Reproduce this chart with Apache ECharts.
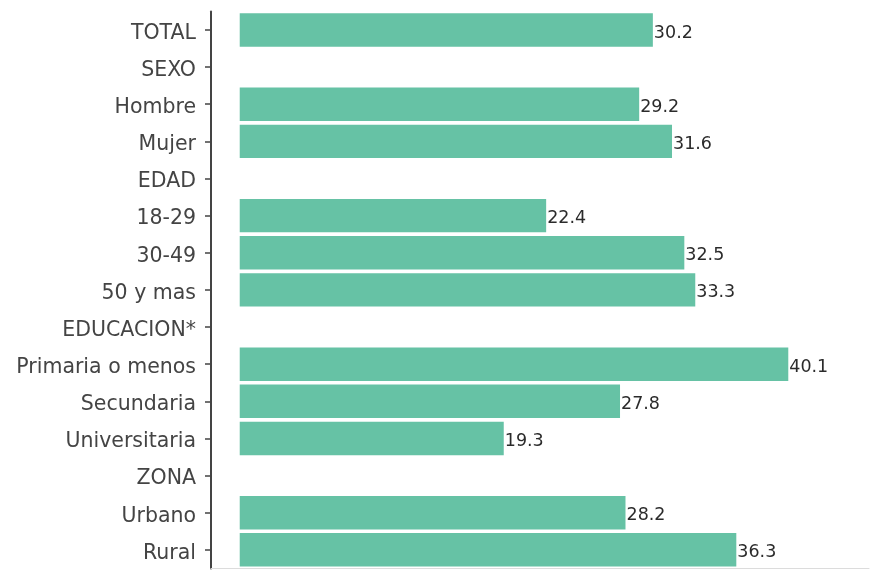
<!DOCTYPE html>
<html lang="es">
<head>
<meta charset="UTF-8" />
<title>Porcentaje por grupo</title>
<style>
  html, body { margin: 0; padding: 0; background: #fff; }
  #chart { width: 874px; height: 571px; }
</style>
</head>
<body>
<div id="chart"></div>
<script src="https://cdn.jsdelivr.net/npm/echarts@6/dist/echarts.min.js"></script>
<script>
// categorias (de arriba hacia abajo) y valores; null = fila de encabezado
const categorias = ['TOTAL', 'SEXO', 'Hombre', 'Mujer', 'EDAD', '18-29', '30-49', '50 y mas',
  'EDUCACION*', 'Primaria o menos', 'Secundaria', 'Universitaria', 'ZONA', 'Urbano', 'Rural'];
const valores = [30.2, null, 29.2, 31.6, null, 22.4, 32.5, 33.3,
  null, 40.1, 27.8, 19.3, null, 28.2, 36.3];

const chart = echarts.init(document.getElementById('chart'));
chart.setOption({
  animation: false,
  grid: { left: 211, top: 11.4, width: 658, height: 557 },
  xAxis: {
    type: 'value',
    min: -2.1,
    max: 46,
    axisLine: { show: true, lineStyle: { color: '#dcdcdc', width: 1 } },
    axisTick: { show: false },
    axisLabel: { show: false },
    splitLine: { show: false }
  },
  yAxis: {
    type: 'category',
    inverse: true,
    data: categorias,
    axisLine: { show: true, onZero: false, lineStyle: { color: '#444', width: 2 } },
    axisTick: { show: true, inside: false, length: 6, alignWithLabel: true, lineStyle: { color: '#444', width: 1.5 } },
    axisLabel: {
      margin: 15,
      formatter: v => '{c|' + v + '}',
      rich: {
        c: {
          fontFamily: 'DejaVu Sans',
          fontSize: 20.5,
          color: '#444',
          padding: [7, 0, 0, 0]
        }
      }
    }
  },
  series: [{
    type: 'bar',
    data: valores,
    barCategoryGap: '10%',
    itemStyle: { color: '#66c2a5' },
    label: {
      show: true,
      position: 'right',
      distance: 1,
      offset: [0, 3],
      fontFamily: 'DejaVu Sans',
      fontSize: 17.5,
      color: '#2b2b2b',
      formatter: p => p.value == null ? '' : p.value.toFixed(1)
    }
  }]
});
</script>
</body>
</html>
